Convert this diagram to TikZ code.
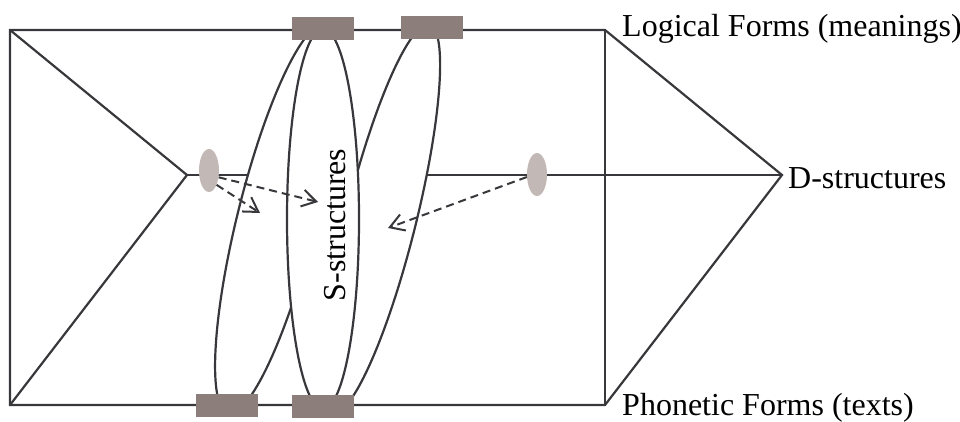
\documentclass[tikz,border=0pt]{standalone}
\usepackage{fontspec}
\setmainfont{Liberation Serif}
\usetikzlibrary{shapes.geometric,arrows.meta}
\definecolor{ln}{HTML}{38383C}
\definecolor{blk}{HTML}{8C7F7B}
\definecolor{dotc}{HTML}{C2B8B6}
\begin{document}
\begin{tikzpicture}[x=1pt,y=-1pt,
  lbl/.style={font=\fontsize{32}{36}\selectfont, inner sep=0pt, text=black},
  bigell/.style={draw=ln, fill=white, ellipse, inner sep=0pt, line width=2.2pt},
  blkbox/.style={fill=blk, rectangle, minimum width=62pt, minimum height=23pt, inner sep=0pt},
  dotell/.style={fill=dotc, ellipse, minimum width=20pt, minimum height=43pt, inner sep=0pt},
  edge/.style={draw=ln, line width=2.2pt, line join=miter},
  dasharrow/.style={draw=ln, line width=2pt, dash pattern=on 8pt off 5pt,
    -{Straight Barb[length=14pt,width=17pt,line width=2pt]}}]
\useasboundingbox (0,0) rectangle (960,422);
% frame points
\coordinate (TL) at (10,30);
\coordinate (TR) at (605,30);
\coordinate (BL) at (10,405);
\coordinate (BR) at (605,405);
\coordinate (LV) at (187,175);
\coordinate (RV) at (782,175);
\draw[edge] (TL) -- (TR) -- (RV) -- (BR) -- (BL) -- cycle;
\draw[edge] (TR) -- (BR);
\draw[edge] (TL) -- (LV) -- (BL);
\draw[edge] (LV) -- (RV);
% big ellipses
\node[bigell, minimum width=78pt, minimum height=400pt, rotate=-14] (A) at (276.5,219) {};
\node[bigell, minimum width=70pt, minimum height=400pt, rotate=-14] (B) at (381,219) {};
\node[bigell, minimum width=72pt, minimum height=380pt] (S) at (323,219) {};
% blocks
\node[blkbox] (T1) at (323,28.5) {};
\node[blkbox] (T2) at (432,27.5) {};
\node[blkbox] (B1) at (227,405.5) {};
\node[blkbox] (B2) at (323,406.5) {};
% small ellipses
\node[dotell] (L) at (209,170.5) {};
\node[dotell] (R) at (537,174.5) {};
% arrow ends
\coordinate (e1) at (260,213);
\coordinate (e2) at (318,202);
\coordinate (e3) at (388,228);
\draw[dasharrow] (L.-62) -- (e1);
\draw[dasharrow] (L.-35) -- (e2);
\draw[dasharrow] (R.194) -- (e3);
% labels
\node[lbl, rotate=90, anchor=base] (st) at (345,225) {S-structures};
\node[lbl, anchor=base west] (lf) at (622,37) {Logical Forms (meanings)};
\node[lbl, anchor=base west] (ds) at (788,188) {D-structures};
\node[lbl, anchor=base west] (pf) at (622,415) {Phonetic Forms (texts)};
\end{tikzpicture}
\end{document}
